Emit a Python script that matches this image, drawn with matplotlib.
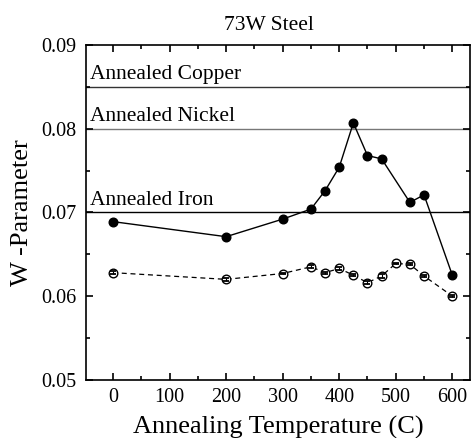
import matplotlib.pyplot as plt
import numpy as np
from matplotlib.ticker import MultipleLocator

plt.rcParams['font.family'] = ['Liberation Serif', 'DejaVu Serif']

# as-annealed W-parameter (filled circles)
temp_a = [0, 200, 300, 350, 375, 400, 425, 450, 475, 525, 550, 600]
w_a = [0.0689, 0.0671, 0.0692, 0.0704, 0.0726, 0.0754, 0.0807, 0.0768, 0.0764, 0.0712, 0.0721, 0.0625]

# second series (open circles, dashed)
temp_b = [0, 200, 300, 350, 375, 400, 425, 450, 475, 500, 525, 550, 600]
w_b = [0.0628, 0.0620, 0.0627, 0.0635, 0.0628, 0.0633, 0.0625, 0.0616, 0.0624, 0.0639, 0.0638, 0.0624, 0.0600]
err_b = [0.0002, 0.0002, 0.0001, 0.0002, 0.0001, 0.0002, 0.0001, 0.0002, 0.0002, 0.0001, 0.0001, 0.0001, 0.0001]

# reference levels
ref_names = ['Annealed Copper', 'Annealed Nickel', 'Annealed Iron']
ref_vals = [0.085, 0.080, 0.070]
ref_colors = ['#333333', '#777777', '#000000']

fig = plt.figure(figsize=(4.77, 4.38), dpi=100)
ax = fig.add_axes([0.180, 0.133, 0.805, 0.764])

for name, val, c in zip(ref_names, ref_vals, ref_colors):
    ax.axhline(val, color=c, lw=1.0, zorder=1)
    ax.text(-40, val + 0.0003, name, fontsize=15.5, ha='left', va='bottom')

ax.plot(temp_a, w_a, '-', color='black', lw=1.0, marker='o', ms=6.2,
        mfc='black', mec='black', zorder=3)

ax.plot(temp_b, w_b, '--', color='black', lw=0.9, dashes=(4, 3), zorder=2)
ax.plot(temp_b, w_b, 'o', ms=6.2, mfc='white', mec='black', mew=1.0, zorder=3)
ax.errorbar(temp_b, w_b, yerr=err_b, fmt='none', ecolor='black',
            elinewidth=0.8, capsize=2.5, capthick=1.3, zorder=4)

ax.set_xlim(-48, 631)
ax.set_ylim(0.05, 0.09)
ax.xaxis.set_major_locator(MultipleLocator(100))
ax.xaxis.set_minor_locator(MultipleLocator(50))
ax.yaxis.set_major_locator(MultipleLocator(0.01))
ax.yaxis.set_minor_locator(MultipleLocator(0.005))
ax.yaxis.set_major_formatter(plt.FuncFormatter(lambda v, p: f'{v:.2f}'))

ax.tick_params(which='both', direction='in', top=True, right=True, labelsize=14.5, width=1.2)
ax.tick_params(which='major', length=5)
ax.tick_params(which='minor', length=3)
ax.tick_params(axis='y', pad=7)
ax.tick_params(axis='x', pad=6)
for s in ax.spines.values():
    s.set_linewidth(1.2)

ax.set_title('73W Steel', fontsize=15.5, pad=11, x=0.478)
ax.set_xlabel('Annealing Temperature (C)', fontsize=19, labelpad=6)
ax.set_ylabel('W -Parameter', fontsize=19, labelpad=6)

fig.savefig('out.png', dpi=100)
